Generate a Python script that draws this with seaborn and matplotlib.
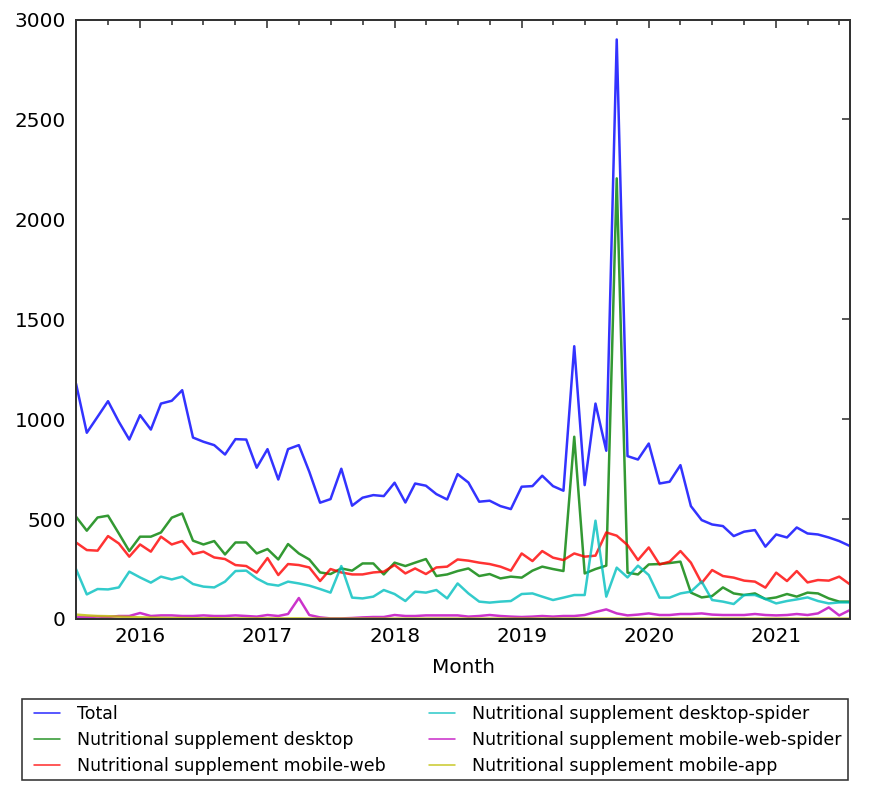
import numpy as np
import pandas as pd
import seaborn as sns
import matplotlib
matplotlib.use("Agg")
import matplotlib.pyplot as plt
import matplotlib.dates as mdates
from matplotlib.patches import Rectangle

# monthly values (Jul 2015 .. Aug 2021)
months = pd.date_range("2015-07-01", periods=74, freq="MS")

total = [1178, 932, 1012, 1090, 987, 898, 1020, 948, 1078, 1092, 1145, 908, 887, 870, 823, 900, 898, 757,
         850, 698, 850, 870, 737, 582, 600, 752, 567, 607, 620, 615, 682, 583, 678, 667, 625, 598,
         725, 683, 587, 592, 565, 550, 662, 665, 717, 665, 642, 1365, 670, 1078, 842, 2900, 815, 798,
         878, 678, 687, 770, 565, 495, 473, 465, 415, 437, 445, 362, 423, 408, 458, 428, 423, 408, 390, 365]
desktop = [512, 442, 508, 517, 428, 340, 412, 412, 433, 507, 528, 392, 373, 390, 323, 383, 383, 328,
           350, 298, 375, 328, 298, 233, 225, 253, 242, 278, 278, 223, 282, 265, 282, 300, 215, 223,
           240, 253, 215, 225, 203, 212, 207, 242, 262, 250, 240, 912, 228, 250, 267, 2205, 232, 223,
           273, 275, 280, 287, 132, 108, 115, 158, 128, 120, 128, 100, 108, 125, 112, 132, 128, 103, 87, 87]
mobile_web = [383, 345, 342, 415, 378, 312, 373, 337, 412, 373, 390, 325, 337, 308, 300, 270, 265, 232,
              305, 220, 275, 270, 258, 190, 250, 233, 223, 223, 233, 237, 270, 228, 253, 225, 258, 262,
              298, 292, 282, 275, 262, 242, 328, 290, 340, 307, 295, 328, 312, 317, 433, 417, 370, 295,
              358, 273, 287, 340, 282, 180, 245, 215, 207, 192, 187, 157, 232, 190, 240, 183, 195, 192, 212, 173]
desktop_spider = [250, 123, 150, 148, 158, 237, 208, 182, 212, 198, 212, 175, 162, 158, 187, 240, 242, 203,
                  175, 167, 187, 178, 167, 150, 132, 265, 107, 103, 112, 145, 125, 90, 137, 132, 145, 103,
                  178, 128, 87, 82, 87, 90, 125, 128, 112, 95, 107, 120, 120, 492, 112, 257, 208, 267,
                  220, 107, 107, 128, 137, 187, 95, 87, 75, 120, 120, 100, 78, 90, 98, 108, 90, 78, 83, 83]
mobile_web_spider = [8, 10, 12, 10, 15, 15, 30, 15, 18, 18, 15, 15, 18, 15, 15, 18, 15, 12,
                     20, 15, 25, 105, 20, 8, 3, 3, 5, 8, 10, 10, 20, 15, 15, 18, 18, 18,
                     18, 12, 15, 20, 15, 12, 10, 12, 15, 12, 15, 15, 20, 35, 48, 28, 18, 22,
                     28, 20, 20, 25, 25, 28, 22, 20, 20, 20, 25, 20, 18, 20, 25, 20, 28, 58, 18, 45]
mobile_app = [22, 18, 15, 14, 12, 10, 8, 7, 6, 5, 5, 4, 4, 4, 3, 3, 3, 3,
              3, 3, 3, 3, 2, 2, 2, 2, 2, 2, 2, 2, 2, 2, 2, 2, 2, 2,
              2, 2, 2, 2, 2, 2, 2, 2, 2, 2, 2, 2, 2, 2, 2, 2, 2, 2,
              2, 2, 2, 2, 2, 2, 2, 2, 2, 2, 2, 2, 2, 2, 2, 2, 2, 2, 2, 2]

series = ["Total", "Nutritional supplement desktop", "Nutritional supplement mobile-web",
          "Nutritional supplement desktop-spider", "Nutritional supplement mobile-web-spider",
          "Nutritional supplement mobile-app"]
values = [total, desktop, mobile_web, desktop_spider, mobile_web_spider, mobile_app]
colors = ["b", "g", "r", "c", "m", "y"]

sns.set_style("white")
plt.rcParams["font.family"] = ["DejaVu Sans"]
plt.rcParams.update({"xtick.direction": "in", "ytick.direction": "in",
                     "xtick.top": True, "ytick.right": True,
                     "text.color": "black", "axes.labelcolor": "black",
                     "xtick.labelcolor": "black", "ytick.labelcolor": "black",
                     "axes.edgecolor": "#333333", "axes.linewidth": 1.0})

W, H = 871, 785
fig = plt.figure(figsize=(W / 144, H / 144), dpi=144)
ax = fig.add_axes([76 / W, 1 - 619 / H, (850 - 76) / W, (619 - 19.5) / H])

for name, vals, c in zip(series, values, colors):
    sns.lineplot(x=months, y=vals, color=c, alpha=0.8, linewidth=1.25, label=name, ax=ax)

ax.set_xlim(months[0], months[-1])
ax.set_ylim(0, 3000)
ax.set_yticks(np.arange(0, 3001, 500))
ax.xaxis.set_major_locator(mdates.YearLocator())
ax.xaxis.set_minor_locator(mdates.MonthLocator(bymonth=[1, 4, 7, 10]))
ax.xaxis.set_major_formatter(mdates.DateFormatter("%Y"))
ax.tick_params(which="major", length=4, width=0.8, labelsize=10, color="#333333")
ax.tick_params(which="minor", length=2.5, width=0.8, color="#333333")
ax.tick_params(axis="x", pad=4)
ax.tick_params(axis="y", pad=5)
ax.set_xlabel("Month", fontsize=10, labelpad=6)
ax.set_ylabel("")

handles, labels = ax.get_legend_handles_labels()
ax.get_legend().remove()
leg = fig.legend(handles, labels, loc="upper left", ncol=2, mode="expand",
                 bbox_to_anchor=(28 / W, 1 - 780 / H, (848 - 28) / W, (780 - 699) / H),
                 bbox_transform=fig.transFigure, borderaxespad=0, fontsize=8.7,
                 handlelength=1.47, handletextpad=1.0, labelspacing=0.47, borderpad=0.35,
                 frameon=False)
for ln in leg.get_lines():
    ln.set_linewidth(0.8)

# legend frame drawn separately so the left padding matches
fig.patches.append(Rectangle((22 / W, 1 - 780 / H), (848 - 22) / W, (780 - 699) / H,
                             transform=fig.transFigure, fill=False,
                             edgecolor="#333333", linewidth=0.8))

fig.savefig("out.png", dpi=144)
